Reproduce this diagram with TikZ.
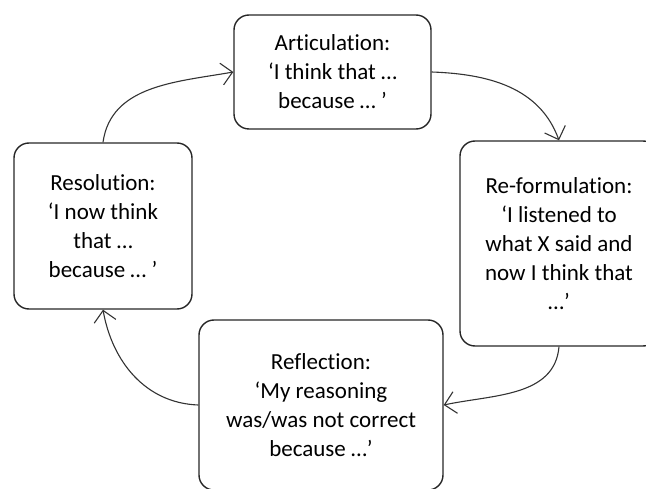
\documentclass[tikz,border=0pt]{standalone}
\usepackage{fontspec}
\setmainfont{Carlito}[Ligatures=NoCommon]
\usetikzlibrary{arrows.meta}
\begin{document}
\begin{tikzpicture}[x=1pt,y=1pt,
  box/.style={draw=black!85, line width=1.4pt, rounded corners=15pt, align=center,
    inner sep=0pt, font=\fontsize{23}{29}\selectfont},
  flow/.style={draw=black!80, line width=1.1pt,
    -{Straight Barb[length=11pt,width=22pt,line width=1.1pt]}}]
\useasboundingbox (0,0) rectangle (646,488);
\clip (0,0) rectangle (646,488);
\node[box, minimum width=197pt, minimum height=114pt] (art) at (332.5,416)
  {Articulation:\\‘I think that …\\because … ’};
\node[box, minimum width=198pt, minimum height=205pt] (refo) at (559,244.5)
  {Re-formulation:\\‘I listened to\\what X said and\\now I think that\\…’};
\node[box, minimum width=244pt, minimum height=170pt] (refl) at (321,83)
  {Reflection:\\‘My reasoning\\was/was not correct\\because …’};
\node[box, minimum width=178pt, minimum height=166pt] (res) at (103,262)
  {Resolution:\\‘I now think\\that …\\because … ’};
\draw[flow] (res.north) to[out=82, in=190] (art.west);
\draw[flow] (art.east) to[out=-2, in=110] (refo.north);
\draw[flow] (refo.south) to[out=-95, in=12] (refl.east);
\draw[flow] (refl.west) to[out=178, in=-80] (res.south);
\end{tikzpicture}
\end{document}
